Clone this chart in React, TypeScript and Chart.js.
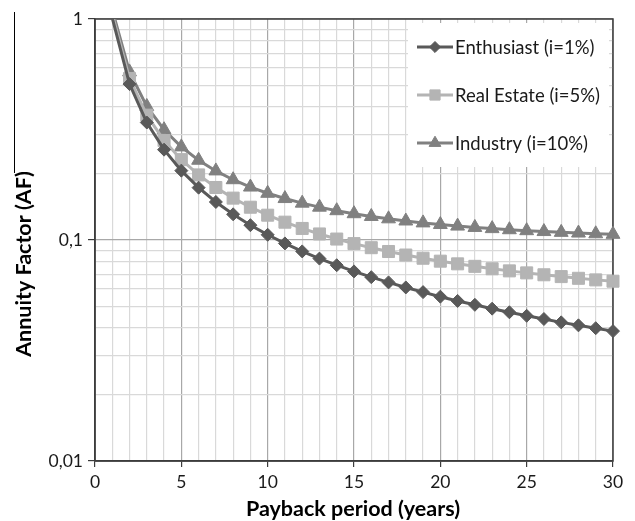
import React, { useEffect, useRef } from "react";
import { Chart, registerables } from "chart.js";

Chart.register(...registerables);

const years = [1, 2, 3, 4, 5, 6, 7, 8, 9, 10, 11, 12, 13, 14, 15, 16, 17, 18, 19, 20, 21, 22, 23, 24, 25, 26, 27, 28, 29, 30];

const enthusiast = [
  1.01, 0.5075, 0.34, 0.2563, 0.206, 0.1725, 0.1486, 0.1307, 0.1167, 0.1056,
  0.0965, 0.0888, 0.0824, 0.0769, 0.0721, 0.0679, 0.0643, 0.061, 0.0581, 0.0554,
  0.053, 0.0509, 0.0489, 0.0471, 0.0454, 0.0439, 0.0424, 0.0411, 0.0399, 0.0387,
];
const realEstate = [
  1.05, 0.5378, 0.3672, 0.282, 0.231, 0.197, 0.1728, 0.1547, 0.1407, 0.1295,
  0.1204, 0.1128, 0.1065, 0.101, 0.0963, 0.0923, 0.0887, 0.0855, 0.0827, 0.0802,
  0.078, 0.076, 0.0741, 0.0725, 0.071, 0.0696, 0.0683, 0.0671, 0.066, 0.0651,
];
const industry = [
  1.1, 0.5762, 0.4021, 0.3155, 0.2638, 0.2296, 0.2054, 0.1874, 0.1736, 0.1627,
  0.154, 0.1468, 0.1408, 0.1357, 0.1315, 0.1278, 0.1247, 0.1219, 0.1195, 0.1175,
  0.1156, 0.114, 0.1126, 0.1113, 0.1102, 0.1092, 0.1083, 0.1075, 0.1067, 0.1061,
];

const seriesNames = ["Enthusiast (i=1%)", "Real Estate (i=5%)", "Industry (i=10%)"];
const xTickValues = [0, 5, 10, 15, 20, 25, 30];
const yTickValues = [1, 0.1, 0.01];
const yTickLabels = ["1", "0,1", "0,01"];
const xTitle = "Payback period (years)";
const yTitle = "Annuity Factor (AF)";

const FONT = "Lato, 'Open Sans', sans-serif";
const COLORS = ["#595959", "#b4b4b4", "#808080"];
const STYLES = ["rectRot", "rect", "triangle"];
const RADII = [6.5, 8.5, 8];

function isMajorY(v: number) {
  return yTickValues.some((t) => Math.abs(t - v) < 1e-9);
}

function drawMarker(ctx: CanvasRenderingContext2D, style: string, r: number, x: number, y: number) {
  ctx.beginPath();
  if (style === "rectRot") {
    ctx.moveTo(x, y - r);
    ctx.lineTo(x + r, y);
    ctx.lineTo(x, y + r);
    ctx.lineTo(x - r, y);
  } else if (style === "rect") {
    const s = r * Math.SQRT1_2;
    ctx.rect(x - s, y - s, 2 * s, 2 * s);
  } else {
    for (let k = 0; k < 3; k++) {
      const a = -Math.PI / 2 + (k * 2 * Math.PI) / 3;
      const px = x + Math.cos(a) * r;
      const py = y + Math.sin(a) * r;
      if (k === 0) ctx.moveTo(px, py);
      else ctx.lineTo(px, py);
    }
  }
  ctx.closePath();
  ctx.fill();
  ctx.stroke();
}

const decorPlugin = {
  id: "decor",
  beforeDatasetsDraw(chart: any) {
    const { ctx, chartArea } = chart;
    ctx.save();
    ctx.strokeStyle = "#3c3c3c";
    ctx.lineWidth = 1.5;
    ctx.strokeRect(chartArea.left, chartArea.top, chartArea.right - chartArea.left, chartArea.bottom - chartArea.top);
    ctx.restore();
  },
  afterDraw(chart: any) {
    const { ctx } = chart;
    ctx.save();
    // legend box
    const lx = 408, ly = 23, lw = 201, lh = 144;
    ctx.fillStyle = "#ffffff";
    ctx.fillRect(lx, ly, lw, lh);
    const rowY = [47, 95, 143];
    chart.data.datasets.forEach((ds: any, i: number) => {
      const y = rowY[i];
      ctx.strokeStyle = COLORS[i];
      ctx.lineWidth = 3;
      ctx.beginPath();
      ctx.moveTo(417, y);
      ctx.lineTo(453, y);
      ctx.stroke();
      ctx.fillStyle = COLORS[i];
      ctx.lineWidth = 1;
      drawMarker(ctx, STYLES[i], RADII[i] * 0.85, 435, y);
      ctx.fillStyle = "#1a1a1a";
      ctx.font = `18.5px ${FONT}`;
      ctx.textAlign = "left";
      ctx.textBaseline = "middle";
      ctx.fillText(seriesNames[i], 455, y + 1);
    });
    // axis titles
    ctx.fillStyle = "#000000";
    ctx.font = `bold 21.5px ${FONT}`;
    ctx.textAlign = "center";
    ctx.textBaseline = "alphabetic";
    ctx.fillText(xTitle, 353, 516);
    ctx.save();
    ctx.translate(24, 264);
    ctx.rotate(-Math.PI / 2);
    ctx.textBaseline = "middle";
    ctx.fillText(yTitle, 0, 0);
    ctx.restore();
    // crop artifact line
    ctx.strokeStyle = "#000";
    ctx.lineWidth = 1;
    ctx.beginPath();
    ctx.moveTo(14.5, 12);
    ctx.lineTo(14.5, 173);
    ctx.stroke();
    ctx.restore();
  },
};

export default function App() {
  const ref = useRef<HTMLCanvasElement>(null);
  useEffect(() => {
    if (!ref.current) return;
    const series = [enthusiast, realEstate, industry];
    const chart = new Chart(ref.current, {
      type: "line",
      data: {
        datasets: series.map((vals, i) => ({
          label: seriesNames[i],
          data: years.map((x, k) => ({ x, y: vals[k] })),
          borderColor: COLORS[i],
          backgroundColor: COLORS[i],
          borderWidth: 3,
          pointStyle: STYLES[i] as any,
          pointRadius: (c: any) => (c.dataIndex === 0 ? 0 : RADII[i]),
          pointBorderWidth: 1,
          pointBorderColor: COLORS[i],
          pointBackgroundColor: COLORS[i],
          tension: 0,
          clip: { left: 10, top: 0, right: 12, bottom: 10 } as any,
        })),
      },
      plugins: [decorPlugin],
      options: {
        animation: false,
        responsive: false,
        maintainAspectRatio: false,
        layout: { padding: { left: 0, top: 19, right: 22, bottom: 0 } },
        plugins: { legend: { display: false }, tooltip: { enabled: false } },
        scales: {
          x: {
            type: "linear",
            min: 0,
            max: 30,
            afterFit: (s: any) => {
              s.height = 60;
            },
            afterBuildTicks: (s: any) => {
              const t = [];
              for (let v = 0; v <= 30; v++) t.push({ value: v });
              s.ticks = t;
            },
            ticks: {
              autoSkip: false,
              maxRotation: 0,
              padding: 5,
              color: "#1a1a1a",
              font: { family: FONT, size: 17.5 },
              callback: (v: any) => (xTickValues.includes(Number(v)) ? String(v) : ""),
            },
            grid: {
              color: (c: any) => (c.tick && c.tick.value % 5 === 0 ? "#a8a8a8" : "#d9d9d9"),
              tickColor: (c: any) => (c.tick && c.tick.value % 5 === 0 ? "#3c3c3c" : "rgba(0,0,0,0)"),
              tickLength: 6,
              lineWidth: 1.2,
            },
            border: { color: "#3c3c3c", width: 1.5 },
          },
          y: {
            type: "logarithmic",
            min: 0.01,
            max: 1,
            afterFit: (s: any) => {
              s.width = 95;
            },
            afterBuildTicks: (s: any) => {
              const t = [];
              for (const d of [0.01, 0.1]) {
                for (let k = 1; k <= 9; k++) t.push({ value: Math.round(d * k * 1000) / 1000 });
              }
              t.push({ value: 1 });
              s.ticks = t;
            },
            ticks: {
              autoSkip: false,
              padding: 5,
              color: "#1a1a1a",
              font: { family: FONT, size: 17.5 },
              callback: (v: any) => {
                const idx = yTickValues.findIndex((t) => Math.abs(t - Number(v)) < 1e-9);
                return idx >= 0 ? yTickLabels[idx] : "";
              },
            },
            grid: {
              color: (c: any) => (c.tick && isMajorY(c.tick.value) ? "#a8a8a8" : "#d9d9d9"),
              tickColor: (c: any) => (c.tick && isMajorY(c.tick.value) ? "#3c3c3c" : "rgba(0,0,0,0)"),
              tickLength: 7,
              lineWidth: 1.2,
            },
            border: { color: "#3c3c3c", width: 1.5 },
          },
        },
      },
    } as any);
    return () => chart.destroy();
  }, []);
  return (
    <div style={{ position: "fixed", left: 0, top: 0, width: 635, height: 521, background: "#fff" }}>
      <canvas ref={ref} width={635} height={521} style={{ width: 635, height: 521 }} />
    </div>
  );
}
